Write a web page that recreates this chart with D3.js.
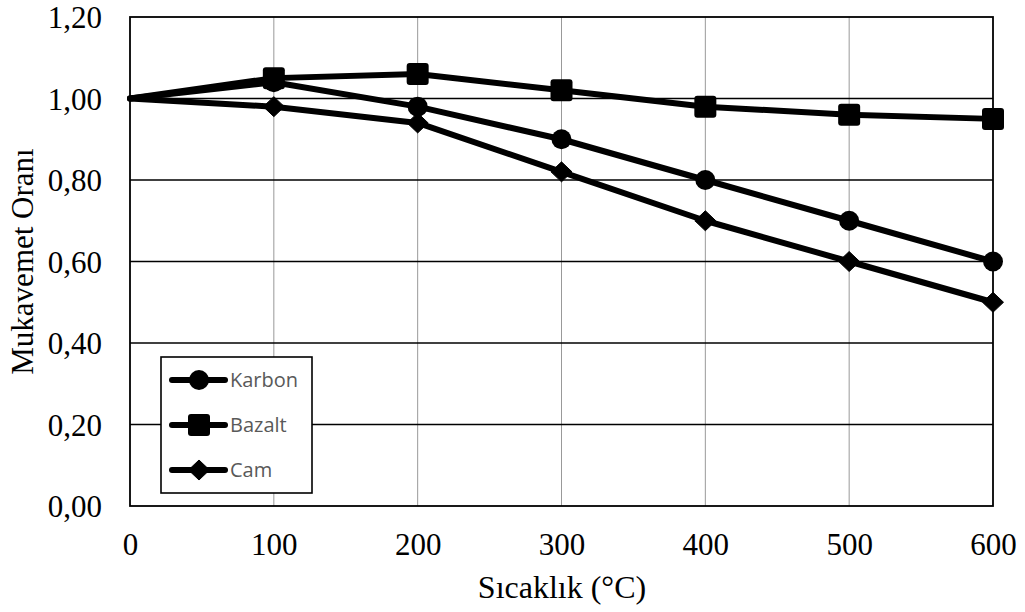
<!DOCTYPE html>
<html>
<head>
<meta charset="utf-8">
<script src="https://cdn.jsdelivr.net/npm/d3@7"></script>
<style>
body { margin: 0; background: #fff; }
</style>
</head>
<body>
<script>
const temps = [0, 100, 200, 300, 400, 500, 600];
const karbon = [1.00, 1.04, 0.98, 0.90, 0.80, 0.70, 0.60];
const bazalt = [1.00, 1.05, 1.06, 1.02, 0.98, 0.96, 0.95];
const cam = [1.00, 0.98, 0.94, 0.82, 0.70, 0.60, 0.50];
const seriesNames = ["Karbon", "Bazalt", "Cam"];
const yTicks = [0, 0.2, 0.4, 0.6, 0.8, 1.0, 1.2];
const xLabel = "Sıcaklık (°C)";
const yLabel = "Mukavemet Oranı";

const width = 1025, height = 612;
const margin = {left: 130, right: 32, top: 17, bottom: 106};

const svg = d3.select("body").append("svg").attr("width", width).attr("height", height);

const x = d3.scaleLinear().domain([0, 600]).range([margin.left, width - margin.right]);
const y = d3.scaleLinear().domain([0, 1.2]).range([height - margin.bottom, margin.top]);

const loc = d3.formatLocale({decimal: ",", thousands: ".", grouping: [3], currency: ["", ""]});
const fmt = loc.format(".2f");
const serif = "'Liberation Serif', 'Times New Roman', serif";

// gridlines
svg.append("g").selectAll("line").data(temps.slice(1, -1)).enter().append("line")
  .attr("x1", d => x(d)).attr("x2", d => x(d))
  .attr("y1", y(0)).attr("y2", y(1.2))
  .attr("stroke", "#999").attr("stroke-width", 1);
svg.append("g").selectAll("line").data(yTicks.slice(1, -1)).enter().append("line")
  .attr("x1", x(0)).attr("x2", x(600))
  .attr("y1", d => y(d)).attr("y2", d => y(d))
  .attr("stroke", "#000").attr("stroke-width", 1.3);

svg.append("rect").attr("x", x(0)).attr("y", y(1.2))
  .attr("width", x(600) - x(0)).attr("height", y(0) - y(1.2))
  .attr("fill", "none").attr("stroke", "#000").attr("stroke-width", 1.8);

// axes
const xAxis = svg.append("g").attr("transform", `translate(0,${y(0)})`)
  .call(d3.axisBottom(x).tickValues(temps).tickSize(0).tickFormat(d3.format("d")));
xAxis.select(".domain").remove();
xAxis.selectAll("text").attr("dy", null).attr("y", 49)
  .style("font-family", serif).style("font-size", "31px").attr("fill", "#000");

const yAxis = svg.append("g").attr("transform", `translate(${x(0)},0)`)
  .call(d3.axisLeft(y).tickValues(yTicks).tickSize(0).tickPadding(28).tickFormat(fmt));
yAxis.select(".domain").remove();
yAxis.selectAll("text").attr("dy", "0.34em")
  .style("font-family", serif).style("font-size", "31px").attr("fill", "#000");

svg.append("text").attr("x", 562).attr("y", 598)
  .attr("text-anchor", "middle")
  .style("font-family", serif).style("font-size", "32px")
  .text(xLabel);
svg.append("text").attr("transform", `translate(33,${(y(0) + y(1.2)) / 2}) rotate(-90)`)
  .attr("text-anchor", "middle")
  .style("font-family", serif).style("font-size", "31px")
  .text(yLabel);

// series
const allSeries = [karbon, bazalt, cam];
const shapes = ["circle", "square", "diamond"];
const line = d3.line().x((d, i) => x(temps[i])).y(d => y(d));

function marker(g, shape, cx, cy) {
  if (shape === "circle") {
    g.append("circle").attr("cx", cx).attr("cy", cy).attr("r", 10).attr("fill", "#000");
  } else if (shape === "square") {
    g.append("rect").attr("x", cx - 11).attr("y", cy - 11).attr("width", 22).attr("height", 22)
      .attr("rx", 3).attr("fill", "#000");
  } else {
    g.append("path").attr("d", `M${cx},${cy - 10}L${cx + 10.5},${cy}L${cx},${cy + 10}L${cx - 10.5},${cy}Z`)
      .attr("fill", "#000").attr("stroke", "#000").attr("stroke-width", 1).attr("stroke-linejoin", "round");
  }
}

allSeries.forEach((vals) => {
  svg.append("path").datum(vals).attr("d", line)
    .attr("fill", "none").attr("stroke", "#000").attr("stroke-width", 6)
    .attr("stroke-linejoin", "round").attr("stroke-linecap", "round");
});
allSeries.forEach((vals, si) => {
  const g = svg.append("g");
  vals.forEach((v, i) => { if (i > 0) marker(g, shapes[si], x(temps[i]), y(v)); });
});

// legend
const lg = svg.append("g");
lg.append("rect").attr("x", 161).attr("y", 357).attr("width", 151).attr("height", 136)
  .attr("fill", "#fff").attr("stroke", "#000").attr("stroke-width", 1.6);
seriesNames.forEach((name, i) => {
  const cy = 380 + i * 45;
  lg.append("line").attr("x1", 172).attr("x2", 225).attr("y1", cy).attr("y2", cy)
    .attr("stroke", "#000").attr("stroke-width", 6).attr("stroke-linecap", "round");
  marker(lg, shapes[i], 199, cy);
  lg.append("text").attr("x", 230).attr("y", cy).attr("dy", "0.36em")
    .style("font-family", "'Open Sans', 'Liberation Sans', sans-serif").style("font-size", "20px")
    .attr("fill", "#595959").text(name);
});
</script>
</body>
</html>
